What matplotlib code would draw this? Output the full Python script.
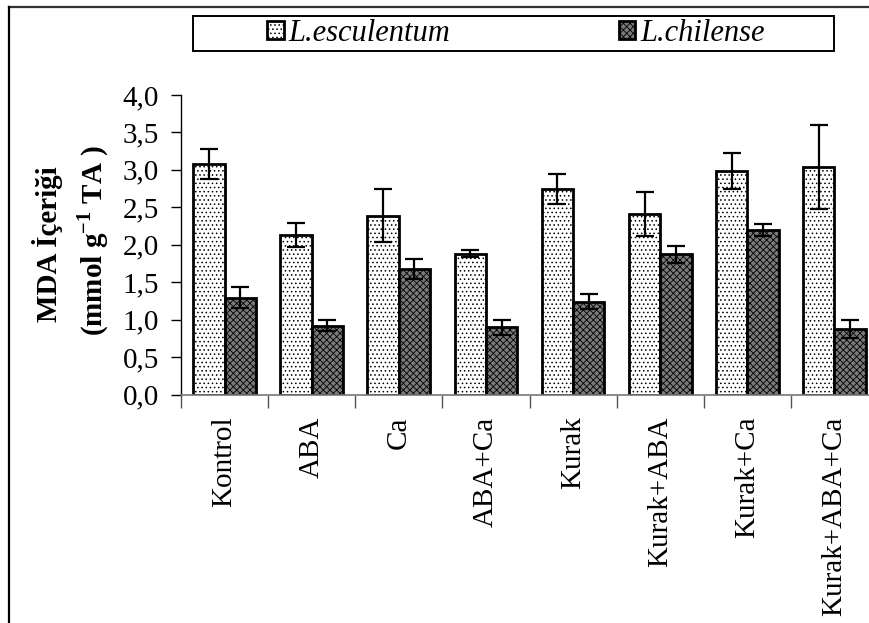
import numpy as np
import matplotlib.pyplot as plt
from matplotlib.patches import Rectangle
from matplotlib.lines import Line2D

# treatments and MDA values
treatments = ["Kontrol", "ABA", "Ca", "ABA+Ca", "Kurak", "Kurak+ABA", "Kurak+Ca", "Kurak+ABA+Ca"]
esculentum = [3.08, 2.13, 2.39, 1.88, 2.74, 2.41, 2.99, 3.04]
esculentum_err = [0.20, 0.16, 0.35, 0.045, 0.20, 0.29, 0.24, 0.56]
chilense = [1.29, 0.92, 1.68, 0.90, 1.24, 1.87, 2.20, 0.87]
chilense_err = [0.14, 0.075, 0.135, 0.10, 0.10, 0.115, 0.08, 0.12]
yticks = [0.0, 0.5, 1.0, 1.5, 2.0, 2.5, 3.0, 3.5, 4.0]

plt.rcParams['font.family'] = ['Liberation Serif', 'DejaVu Serif']
plt.rcParams['mathtext.fontset'] = 'custom'
plt.rcParams['mathtext.rm'] = 'Liberation Serif'
plt.rcParams['mathtext.bf'] = 'Liberation Serif:bold'
plt.rcParams['hatch.linewidth'] = 0.6

W, H = 869, 623
fig = plt.figure(figsize=(W / 100, H / 100), dpi=100)

# axes placed in pixel terms; the right side runs past the figure like the cropped original
left, right, bottom, top = 181, 878, 394.5, 95
ax = fig.add_axes([left / W, 1 - bottom / H, (right - left) / W, (bottom - top) / H])

x = np.arange(len(treatments))
w = 0.36
err_kw = dict(ecolor='black', elinewidth=1.6, capthick=1.6, capsize=6.5)
b1 = ax.bar(x - w / 2, esculentum, w, yerr=esculentum_err, color='white',
            edgecolor='black', linewidth=2, hatch='....', error_kw=err_kw,
            label='L.esculentum')
b2 = ax.bar(x + w / 2, chilense, w, yerr=chilense_err, color='#7a7a7a',
            edgecolor='black', linewidth=2, hatch='xxxxx', error_kw=err_kw,
            label='L.chilense')

ax.set_xlim(-0.5, len(treatments) - 0.5)
ax.set_ylim(0, 4.0)
ax.set_yticks(yticks)
ax.set_yticklabels([f"{v:.1f}".replace('.', ',') for v in yticks], fontsize=21)
ax.tick_params(axis='y', direction='out', length=7, width=1, pad=9)

ax.set_xticks(x)
ax.set_xticklabels(treatments, rotation=90, fontsize=21, va='top')
ax.set_xticks(np.arange(-0.5, len(treatments), 1.0), minor=True)
ax.tick_params(axis='x', which='major', length=0, pad=16)
ax.tick_params(axis='x', which='minor', direction='out', length=9, width=1, color='#555555')

for s in ['top', 'right']:
    ax.spines[s].set_visible(False)
ax.spines['left'].set_linewidth(1)
ax.spines['bottom'].set_linewidth(1.2)
ax.spines['bottom'].set_color('#777777')

fig.text(48 / W, 1 - 244 / H, "MDA İçeriği", rotation=90, fontsize=21,
         fontweight='bold', ha='center', va='center')
fig.text(93 / W, 1 - 240 / H, r"(mmol g$^{\mathbf{-1}}$ TA )", rotation=90, fontsize=21,
         fontweight='bold', ha='center', va='center')

# legend frame and entries
fig.add_artist(Rectangle((193 / W, 1 - 51 / H), (834 - 193) / W, 35 / H,
                         transform=fig.transFigure, fill=False, edgecolor='black', linewidth=1.4))
fig.legend(handles=[b1, b2], loc='center', bbox_to_anchor=(516 / W, 1 - 33.5 / H),
           ncol=2, frameon=False, prop=dict(style='italic', size=22),
           handlelength=0.55, handleheight=0.55, handletextpad=0.17, columnspacing=5.5)

# outer chart border (top and left only, the rest is cropped)
fig.add_artist(Line2D([8.5 / W, 1.0], [1 - 7 / H, 1 - 7 / H], transform=fig.transFigure,
                      color='#333333', linewidth=1.6))
fig.add_artist(Line2D([8.5 / W, 8.5 / W], [0, 1 - 7 / H], transform=fig.transFigure,
                      color='black', linewidth=1.6))

fig.savefig('out.png', dpi=100)
